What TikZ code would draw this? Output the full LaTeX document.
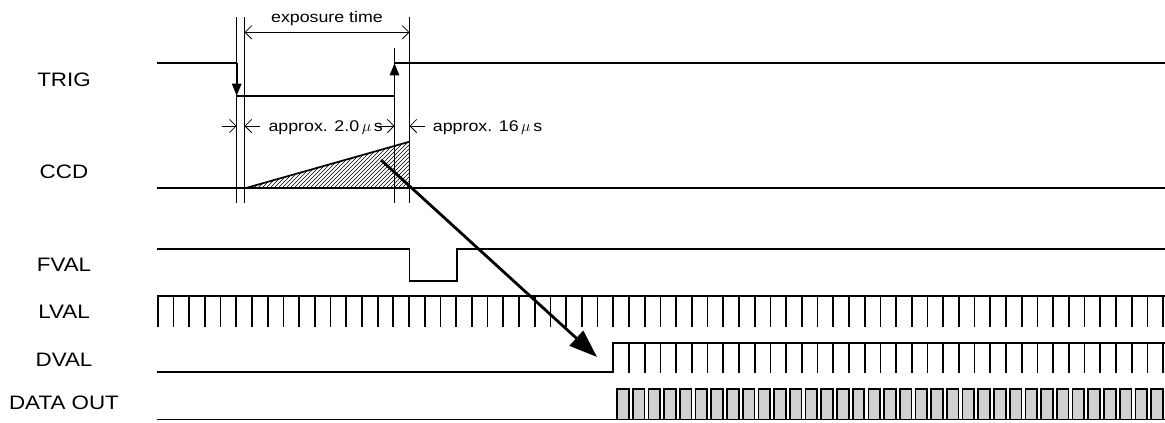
\documentclass[tikz,border=0pt]{standalone}
\usepackage{fontspec}
\setmainfont{Liberation Sans}
\newfontfamily\sigfont[FakeStretch=1.15]{Liberation Sans}
\usepackage{tikz}
\usetikzlibrary{arrows.meta, patterns}
\definecolor{sigink}{HTML}{000000}
\definecolor{datafill}{HTML}{D0D0D0}
\tikzset{
  lbl/.style={font=\sigfont\fontsize{14.6}{17}\selectfont, text=sigink, inner sep=0pt},
  dlbl/.style={font=\sigfont\fontsize{11.6}{14}\selectfont, text=sigink, inner sep=0pt},
  wave/.style={draw=sigink, line width=1.3pt},
  guide/.style={draw=sigink, line width=0.65pt},
  dimarr/.style={-{Straight Barb[length=5pt, width=10pt]}, draw=sigink, line width=0.6pt},
  dimboth/.style={{Straight Barb[length=5pt, width=10pt]}-{Straight Barb[length=5pt, width=10pt]}, draw=sigink, line width=0.6pt},
  trigarr/.style={-{Triangle[length=9pt, width=7pt]}, draw=sigink, line width=1.3pt},
  flow/.style={-{Triangle[length=21pt, width=15pt]}, draw=sigink, line width=2.1pt}
}

\begin{document}
\begin{tikzpicture}[x=0.75pt, y=-0.75pt]
\useasboundingbox (0,0) rectangle (1165,422);
\node[lbl] (trig) at (64,80) {TRIG};
\node[lbl] (ccd) at (64,172) {CCD};
\node[lbl] (fval) at (64,265) {FVAL};
\node[lbl] (lval) at (64,311.5) {LVAL};
\node[lbl] (dval) at (64,360) {DVAL};
\node[lbl] (dout) at (64,402.5) {DATA OUT};
\coordinate (tfall) at (236.7,0); \coordinate (cstart) at (244.5,0);
\coordinate (trise) at (394.5,0); \coordinate (cend) at (409.5,0);
\draw[guide] (tfall |- 0,17) -- (tfall |- 0,203);
\draw[guide] (cstart |- 0,17) -- (cstart |- 0,203);
\draw[guide] (trise |- 0,48) -- (trise |- 0,203);
\draw[guide] (cend |- 0,17) -- (cend |- 0,203);
\draw[dimboth] (cstart |- 0,32.3) -- (cend |- 0,32.3);
\node[dlbl, anchor=base] (expo) at (327,22.5) {exposure time};
\draw[wave] (157,63.3) -- (tfall |- 0,63.3);
\draw[trigarr] (tfall |- 0,63.3) -- (tfall |- 0,95.7);
\draw[wave] (tfall |- 0,95.7) -- (trise |- 0,95.7);
\draw[trigarr] (trise |- 0,95.7) -- (trise |- 0,63.3);
\draw[wave] (trise |- 0,63.3) -- (1165,63.3);
\draw[dimarr] (221.7,126) -- (tfall |- 0,126);
\draw[dimarr] (260,126) -- (cstart |- 0,126);
\draw[dimarr] (376.7,126) -- (trise |- 0,126);
\draw[dimarr] (425,126) -- (cend |- 0,126);
\node[dlbl, anchor=base west] (tdel) at (268.3,131) {approx. 2.0\,$\mu$\,s};
\node[dlbl, anchor=base west] (tread) at (432.7,131) {approx. 16\,$\mu$\,s};
\fill[pattern=north east lines] (246,188) -- (cend |- 0,141.7) -- (cend |- 0,188) -- cycle;
\draw[wave] (157,188) -- (1165,188);
\draw[wave] (246,188) -- (cend |- 0,141.7);
\draw[wave] (157,249.3) -- (cend |- 0,249.3) -- (cend |- 0,280.7) -- (456.7,280.7) -- (456.7,249.3) -- (1165,249.3);
\draw[wave] (157.7,327.3) -- (157.7,295.7) -- (1165,295.7);
\foreach \i in {1,...,64}
  \draw[wave] ({157.7+15.71*\i},295.7) -- ++(0,31.6);
\draw[wave] (157,372.3) -- (613.3,372.3) -- (613.3,342.7) -- (1165,342.7);
\foreach \i in {30,...,64}
  \draw[wave] ({157.7+15.71*\i},342.7) -- ++(0,30.3);
\draw[wave] (157,419.5) -- (1165,419.5);
\foreach \i in {0,...,34}
  \draw[wave, fill=datafill] ({617+15.71*\i},389) rectangle ++(11.7,30.5);
\coordinate (rd0) at (381,160);
\coordinate (rd1) at (597,357);
\draw[flow] (rd0) -- (rd1);
\end{tikzpicture}
\end{document}
